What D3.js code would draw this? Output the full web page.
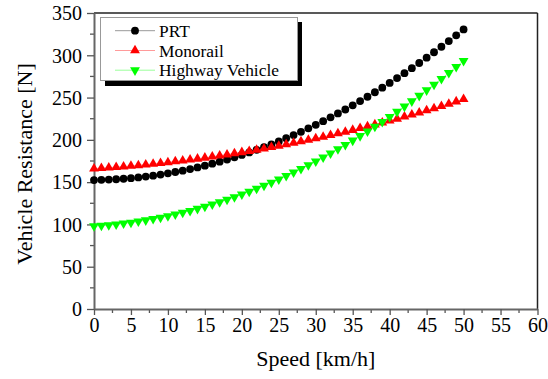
<!DOCTYPE html>
<html><head><meta charset="utf-8">
<script src="https://cdn.jsdelivr.net/npm/d3@7"></script>
<style>body{margin:0;background:#fff}svg{display:block}</style>
</head><body><svg id="c" width="548" height="379"></svg>
<script>
const speeds = d3.range(0, 51);
const prt = [152.5,152.7,153.0,153.4,154.0,154.7,155.6,156.6,157.7,159.0,160.4,162.0,163.6,165.5,167.4,169.5,171.8,174.2,176.7,179.4,182.2,185.1,188.2,191.4,194.7,198.2,201.9,205.6,209.5,213.6,217.8,222.1,226.6,231.2,235.9,240.8,245.8,251.0,256.3,261.7,267.3,273.0,278.8,284.8,290.9,297.2,303.6,310.1,316.8,323.6,330.6];
const monorail = [166.0,166.5,167.1,167.7,168.4,169.1,169.9,170.7,171.6,172.5,173.4,174.4,175.4,176.5,177.6,178.8,180.0,181.3,182.6,183.9,185.3,186.7,188.2,189.7,191.3,192.9,194.6,196.3,198.1,199.9,201.7,203.6,205.5,207.5,209.5,211.6,213.7,215.9,218.1,220.3,222.6,224.9,227.3,229.7,232.2,234.7,237.3,239.9,242.6,245.3,248.0];
const highway = [98.0,98.6,99.3,100.2,101.2,102.3,103.6,105.0,106.5,108.2,110.0,111.9,114.0,116.2,118.6,121.1,123.7,126.5,129.4,132.4,135.6,138.9,142.3,145.9,149.6,153.4,157.4,161.5,165.7,170.1,174.7,179.3,184.1,189.0,194.1,199.3,204.6,210.1,215.7,221.4,227.3,233.3,239.5,245.7,252.2,258.7,265.4,272.2,279.2,286.3,293.5];
const seriesNames = ["PRT","Monorail","Highway Vehicle"];
const xTicks = [0,5,10,15,20,25,30,35,40,45,50,55,60];
const yTicks = [0,50,100,150,200,250,300,350];
const xLabel = "Speed [km/h]";
const yLabel = "Vehicle Resistance [N]";

const FONT = "Liberation Serif";
const svg = d3.select("#c");
const L = 94, R = 537.5, T = 13, B = 309;
const x = d3.scaleLinear().domain([0,60]).range([L,R]);
const y = d3.scaleLinear().domain([0,350]).range([B,T]);

// frame top/right
svg.append("line").attr("x1",L).attr("x2",R).attr("y1",T).attr("y2",T).attr("stroke","#222").attr("stroke-width",1.5);
svg.append("line").attr("x1",R).attr("x2",R).attr("y1",T).attr("y2",B).attr("stroke","#222").attr("stroke-width",1.5);

// minor ticks
svg.append("g").selectAll("line").data(d3.range(2.5,60,5)).join("line")
  .attr("x1",d=>x(d)).attr("x2",d=>x(d)).attr("y1",B).attr("y2",B+4).attr("stroke","#555").attr("stroke-width",1.3);
svg.append("g").selectAll("line").data(d3.range(25,350,50)).join("line")
  .attr("x1",L-4).attr("x2",L).attr("y1",d=>y(d)).attr("y2",d=>y(d)).attr("stroke","#555").attr("stroke-width",1.3);

const xAxis = d3.axisBottom(x).tickValues(xTicks).tickSize(6).tickPadding(3).tickSizeOuter(0);
const yAxis = d3.axisLeft(y).tickValues(yTicks).tickSize(7).tickPadding(5).tickSizeOuter(0);
const ax = svg.append("g").attr("transform",`translate(0,${B})`).call(xAxis);
const ay = svg.append("g").attr("transform",`translate(${L},0)`).call(yAxis);
[ax,ay].forEach(g=>{
  g.attr("font-family",null);
  g.select(".domain").attr("stroke","#666").attr("stroke-width",2);
  g.selectAll(".tick line").attr("stroke","#555").attr("stroke-width",1.3);
  g.selectAll(".tick text").style("font-family",FONT).style("font-size","20px").attr("fill","#000");
});
ay.selectAll(".tick text").attr("dy","0.34em");

svg.append("text").attr("x",(L+R)/2).attr("y",366).attr("text-anchor","middle")
  .style("font-family",FONT).style("font-size","22px").text(xLabel);
svg.append("text").attr("transform",`translate(32,164) rotate(-90)`).attr("text-anchor","middle")
  .style("font-family",FONT).style("font-size","22px").text(yLabel);

const data = [
  {name:seriesNames[0], vals:prt, color:"#000", line:"#999", shape:"circle"},
  {name:seriesNames[1], vals:monorail, color:"#ff0000", line:"#ff9a9a", shape:"up"},
  {name:seriesNames[2], vals:highway, color:"#00ff00", line:"#9aff9a", shape:"down"}
];
const tri = d3.symbol().type(d3.symbolTriangle).size(42);
function drawMarker(g, s, cx, cy){
  if (s.shape==="circle") g.append("circle").attr("cx",cx).attr("cy",cy).attr("r",3.9).attr("fill",s.color);
  else g.append("path").attr("d",tri()).attr("fill",s.color)
      .attr("transform",`translate(${cx},${cy}) ${s.shape==="down"?"rotate(180)":""}`);
}
const line = d3.line().x((d,i)=>x(speeds[i])).y(d=>y(d));
data.forEach(s=>{
  svg.append("path").attr("d",line(s.vals)).attr("fill","none").attr("stroke",s.line).attr("stroke-width",1);
});
data.forEach(s=>{
  const g = svg.append("g");
  s.vals.forEach((v,i)=>drawMarker(g,s,x(speeds[i]),y(v)));
});

// legend
const lg = svg.append("g");
lg.append("rect").attr("x",105).attr("y",22).attr("width",197).attr("height",64).attr("fill","#000");
lg.append("rect").attr("x",100.5).attr("y",17.5).attr("width",197).attr("height",63).attr("fill","#fff").attr("stroke","#999").attr("stroke-width",1);
const rows = [30.7,50.5,70.2];
data.forEach((s,i)=>{
  const ry = rows[i];
  lg.append("line").attr("x1",115).attr("x2",155).attr("y1",ry).attr("y2",ry).attr("stroke",s.line).attr("stroke-width",1);
  drawMarker(lg,s,135,ry);
  lg.append("text").attr("x",159).attr("y",ry).attr("dy","0.35em")
    .style("font-family",FONT).style("font-size","17.4px").text(s.name);
});
</script></body></html>
